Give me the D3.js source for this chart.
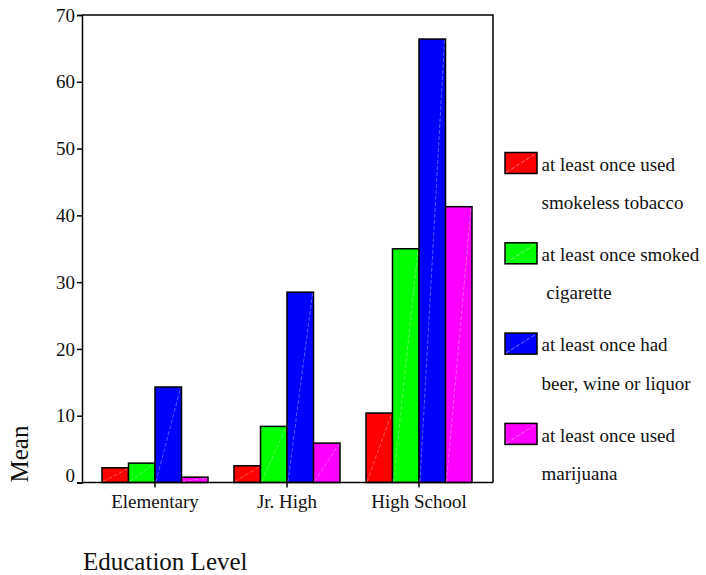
<!DOCTYPE html>
<html>
<head>
<meta charset="utf-8">
<script src="https://cdn.jsdelivr.net/npm/d3@7"></script>
<style>
  body { margin: 0; background: #fff; }
  svg text { font-family: "Liberation Serif", "Times New Roman", serif; fill: #111; }
</style>
</head>
<body>
<script>
// data
const levels = ['Elementary', 'Jr. High', 'High School'];
const seriesNames = ['smokeless', 'cigarette', 'alcohol', 'marijuana'];
const legendLines = [
  ['at least once used', 'smokeless tobacco'],
  ['at least once smoked', ' cigarette'],
  ['at least once had', 'beer, wine or liquor'],
  ['at least once used', 'marijuana']
];
const colors = ['#ff0000', '#00ff00', '#0000ff', '#ff00ff'];
const hatch = ['#ff9a9a', '#9aff9a', '#9a9aff', '#ff9aff'];
const smokeless = [2.2, 2.5, 10.4];
const cigarette = [2.9, 8.4, 35.0];
const alcohol = [14.3, 28.5, 66.4];
const marijuana = [0.8, 5.9, 41.3];
const yTicks = [0, 10, 20, 30, 40, 50, 60, 70];

const values = [smokeless, cigarette, alcohol, marijuana];

const width = 706, height = 575;
const plotLeft = 82, plotRight = 493, plotTop = 15, plotBottom = 482.5;

const svg = d3.select('body').append('svg').attr('width', width).attr('height', height);

let x = d3.scaleBand().domain(levels).range([89, 485]).paddingInner(0).paddingOuter(0);
let xInner = d3.scaleBand().domain(seriesNames).range([13, x.bandwidth() - 13]);
let y = d3.scaleLinear().domain([0, 70]).range([plotBottom, plotTop]);

// frame
svg.append('path')
  .attr('d', `M${plotLeft},${plotTop}H${plotRight}V${plotBottom}`)
  .attr('fill', 'none').attr('stroke', '#000').attr('stroke-width', 1.5);

// bars
const groups = svg.append('g').selectAll('g')
  .data(levels)
  .enter()
    .append('g')
    .attr('transform', d => `translate(${x(d)},0)`);

groups.each(function(lev, i) {
  const g = d3.select(this);
  seriesNames.forEach((s, j) => {
    const v = values[j][i];
    const x0 = xInner(s), w = xInner.bandwidth();
    g.append('rect')
      .attr('x', x0).attr('y', y(v))
      .attr('width', w).attr('height', y(0) - y(v))
      .attr('fill', colors[j])
      .attr('stroke', '#000').attr('stroke-width', 1.5);
    g.append('line')
      .attr('x1', x0 + 1).attr('y1', y(0) - 1)
      .attr('x2', x0 + w - 1).attr('y2', y(v) + 1)
      .attr('stroke', hatch[j]).attr('stroke-width', 0.8)
      .attr('stroke-dasharray', '4,2').attr('opacity', 0.7);
  });
});

// axes
const yAxis = svg.append('g')
  .attr('transform', `translate(${plotLeft},0)`)
  .call(d3.axisLeft(y).tickValues(yTicks).tickSize(5).tickPadding(2));
yAxis.select('.domain').attr('stroke-width', 1.5);
yAxis.selectAll('.tick line').attr('stroke-width', 1.5);
yAxis.selectAll('text').style('font-size', '19px').attr('fill', '#111');
// the zero label sits a little above its tick
yAxis.selectAll('.tick').filter(d => d === 0).select('text').attr('y', -7);

const xAxis = svg.append('g')
  .attr('transform', `translate(0,${plotBottom})`)
  .call(d3.axisBottom(x).tickSize(5).tickSizeOuter(0).tickPadding(7));
xAxis.select('.domain').attr('d', `M${plotLeft},0H${plotRight}`).attr('stroke-width', 1.5);
xAxis.selectAll('.tick line').attr('stroke-width', 1.5);
xAxis.selectAll('text').style('font-size', '19px').attr('fill', '#111');

// axis titles
svg.append('text')
  .attr('transform', 'translate(28,454) rotate(-90)')
  .attr('text-anchor', 'middle')
  .style('font-size', '25px')
  .text('Mean');

svg.append('text')
  .attr('x', 83).attr('y', 570)
  .style('font-size', '25px')
  .text('Education Level');

// legend
const legend = svg.append('g').attr('transform', 'translate(505,152.5)');
legendLines.forEach((lines, j) => {
  const lg = legend.append('g').attr('transform', `translate(0,${j * 90.3})`);
  lg.append('rect')
    .attr('width', 32).attr('height', 21)
    .attr('fill', colors[j]).attr('stroke', '#000').attr('stroke-width', 1.5);
  lg.append('line')
    .attr('x1', 1).attr('y1', 20).attr('x2', 31).attr('y2', 1)
    .attr('stroke', hatch[j]).attr('stroke-width', 0.8).attr('stroke-dasharray', '4,2');
  lg.append('text')
    .attr('x', 36.5).attr('y', 18.2)
    .style('font-size', '19px')
    .style('white-space', 'pre')
    .text(lines[0]);
  lg.append('text')
    .attr('x', 36.5).attr('y', 56.5)
    .style('font-size', '19px')
    .style('white-space', 'pre')
    .text(lines[1]);
});
</script>
</body>
</html>
